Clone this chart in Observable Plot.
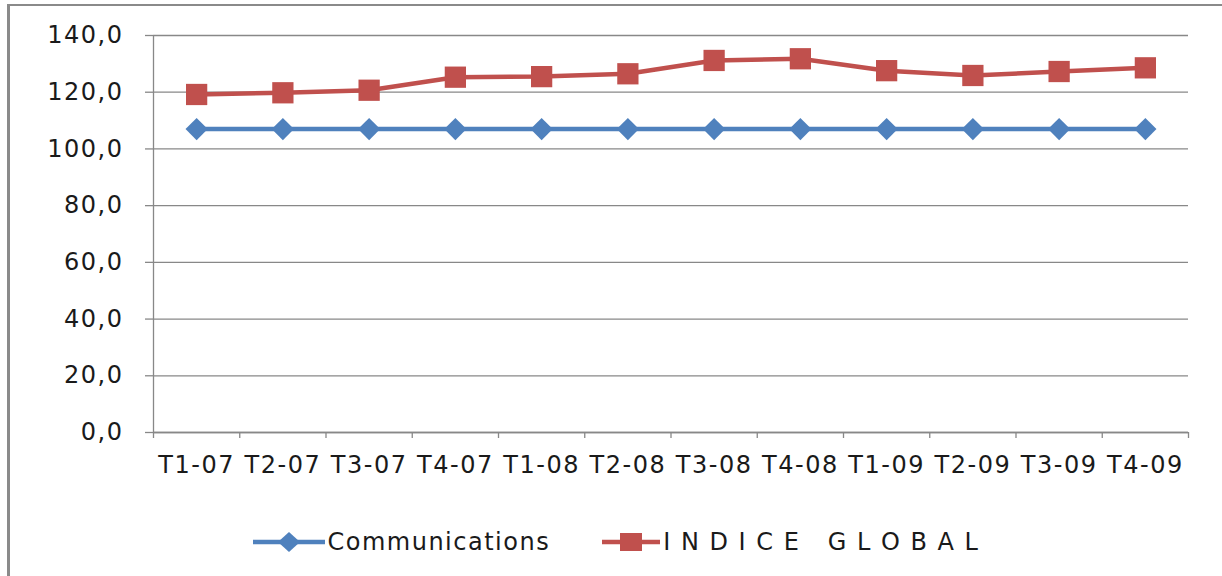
<!DOCTYPE html>
<html>
<head>
<meta charset="utf-8">
<script src="https://cdn.jsdelivr.net/npm/d3@7"></script>
<script src="https://cdn.jsdelivr.net/npm/@observablehq/plot@0.6"></script>
<style>
  html, body { margin: 0; padding: 0; background: #fff; }
  #frame {
    position: absolute; left: 7px; top: 4px;
    width: 1215px; height: 572px;
    border-top: 2px solid #8a8a8a; border-left: 3px solid #8a8a8a;
    font-family: "DejaVu Sans", sans-serif; color: #1a1a1a;
  }
  #chart svg text { letter-spacing: 1.5px; }
  #legend {
    position: absolute; left: 0; top: 522px; width: 1212px;
    display: flex; justify-content: center; align-items: center;
    font-size: 24px; letter-spacing: 1.5px; white-space: pre;
  }
  .item { display: flex; align-items: center; }
  .item svg { display: block; }
</style>
</head>
<body>
<div id="frame">
  <div id="chart"></div>
  <div id="legend"></div>
</div>
<script>
const quarters = ["T1-07","T2-07","T3-07","T4-07","T1-08","T2-08","T3-08","T4-08","T1-09","T2-09","T3-09","T4-09"];
const communications = [107, 107, 107, 107, 107, 107, 107, 107, 107, 107, 107, 107];
const indiceGlobal = [119.2, 119.8, 120.7, 125.3, 125.5, 126.5, 131.2, 131.8, 127.6, 125.9, 127.3, 128.6];
const yTicks = [0, 20, 40, 60, 80, 100, 120, 140];
const seriesNames = ["Communications", "I N D I C E   G L O B A L"];

const blue = "#4f81bd", red = "#c0504d", grid = "#888888";

const commData = quarters.map((q, i) => ({x: i + 0.5, q, v: communications[i]}));
const globData = quarters.map((q, i) => ({x: i + 0.5, q, v: indiceGlobal[i]}));
const boundaries = d3.range(quarters.length + 1);
const centers = quarters.map((q, i) => i + 0.5);
const fmt = d => d.toFixed(1).replace(".", ",");

const chart = Plot.plot({
  width: 1212, height: 476,
  marginLeft: 143, marginRight: 34, marginTop: 29, marginBottom: 50,
  style: {fontFamily: "DejaVu Sans, sans-serif", fontSize: "24px", background: "transparent"},
  x: {domain: [0, quarters.length], axis: null, label: null},
  y: {domain: [0, 140], axis: null, label: null},
  marks: [
    Plot.gridY(yTicks, {stroke: grid, strokeOpacity: 1, strokeWidth: 1.3}),
    Plot.axisY(yTicks, {tickSize: 8, tickPadding: 22, tickFormat: fmt, stroke: grid, strokeWidth: 1.3, fill: "#1a1a1a", fontSize: 24, label: null}),
    Plot.axisX(boundaries, {tickSize: 6, tickFormat: () => "", stroke: grid, strokeWidth: 1.3, label: null}),
    Plot.axisX(centers, {tickSize: 0, tickPadding: 23, tickFormat: d => quarters[Math.floor(d)], fill: "#1a1a1a", fontSize: 24, label: null}),
    Plot.ruleX([0], {stroke: grid, strokeWidth: 1.3}),
    Plot.ruleY([0], {stroke: grid, strokeWidth: 1.3}),
    Plot.line(commData, {x: "x", y: "v", stroke: blue, strokeWidth: 4.5}),
    Plot.dot(commData, {x: "x", y: "v", symbol: "diamond2", r: 10, fill: blue, stroke: null}),
    Plot.line(globData, {x: "x", y: "v", stroke: red, strokeWidth: 4.5}),
    Plot.dot(globData, {x: "x", y: "v", symbol: "square", r: 12, fill: red, stroke: null})
  ]
});
document.getElementById("chart").appendChild(chart);

// Legend
const legend = document.getElementById("legend");
function item(name, color, kind, lineW, gapAfter) {
  const el = document.createElement("div");
  el.className = "item";
  el.style.marginRight = gapAfter + "px";
  const h = 24, cx = lineW / 2, cy = h / 2;
  let sym;
  if (kind === "diamond") {
    sym = `<path d="M${cx},${cy-10}L${cx+11},${cy}L${cx},${cy+10}L${cx-11},${cy}Z" fill="${color}"/>`;
  } else {
    sym = `<rect x="${cx-11}" y="${cy-9}" width="22" height="18" fill="${color}"/>`;
  }
  el.innerHTML = `<svg width="${lineW}" height="${h}"><line x1="0" x2="${lineW}" y1="${cy}" y2="${cy}" stroke="${color}" stroke-width="4.5"/>${sym}</svg><span style="margin-left:3px">${name}</span>`;
  return el;
}
legend.appendChild(item(seriesNames[0], blue, "diamond", 72, 52));
legend.appendChild(item(seriesNames[1], red, "square", 58, 0));
</script>
</body>
</html>
